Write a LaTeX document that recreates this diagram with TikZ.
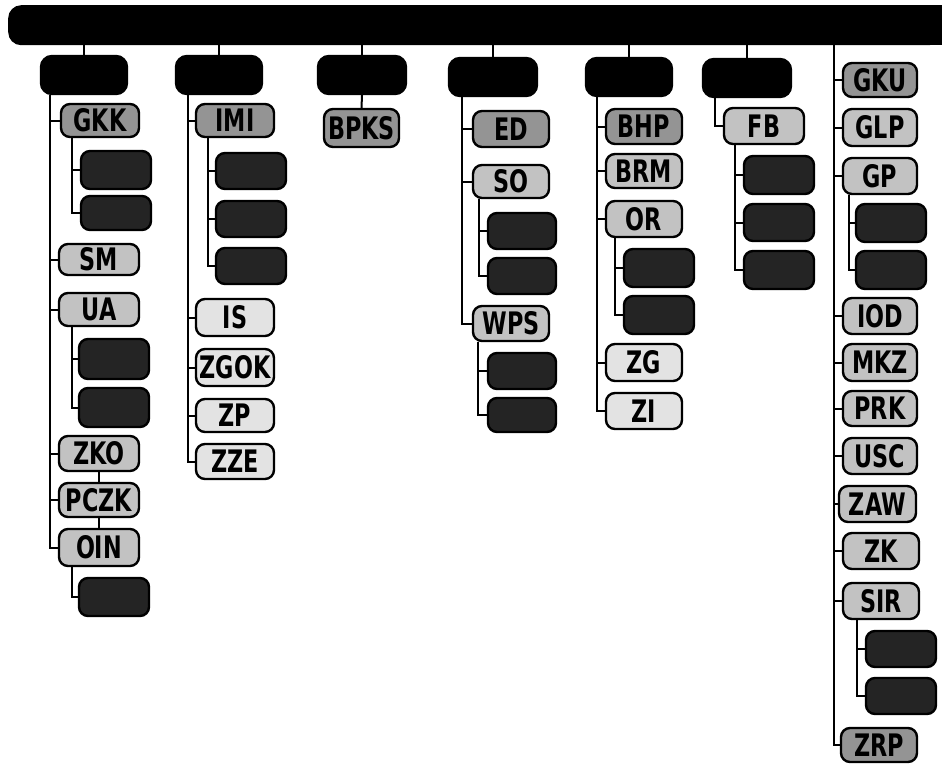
\documentclass[tikz,border=0pt]{standalone}
\usepackage{fontspec}
\usepackage{graphicx}
\setmainfont{DejaVu Sans}
\newcommand\lbl[1]{\scalebox{0.72}[1]{\fontsize{31}{31}\selectfont\bfseries #1}}
\tikzset{
  box/.style={draw=black, line width=2.4pt, rounded corners=9pt, inner sep=0pt, text=black},
  blk/.style={fill=black, rounded corners=11pt},
  lA/.style={fill=black!42},
  lB/.style={fill=black!24},
  lC/.style={fill=black!11},
  dk/.style={fill=black!86},
  ln/.style={draw=black, line width=2pt}
}
\newcommand\bx[7]{\node[box,#6,minimum width={(#4-#2-2)*1pt},minimum height={(#5-#3-2)*1pt}] (#1) at ({(#2+#4)/2},{(#3+#5)/2}) {\lbl{#7}};}
\begin{document}
\begin{tikzpicture}[x=1pt,y=-1pt]
\useasboundingbox[fill=white] (0,0) rectangle (942,764);
% top bar
\node[fill=black, rounded corners=13pt, inner sep=0pt, minimum width=934pt, minimum height=40pt, anchor=north west] (top) at (8,5) {};
\fill[black] (top.north) rectangle (top.south east);
% column 1
\bx{A1}{40}{55}{128}{95}{blk}{}
\bx{GKK}{60}{103}{140}{138}{lA}{GKK}
\bx{g1a}{80}{150}{152}{190}{dk}{}
\bx{g1b}{80}{195}{152}{231}{dk}{}
\bx{SM}{58}{243}{140}{276}{lB}{SM}
\bx{UA}{58}{292}{140}{327}{lB}{UA}
\bx{u1}{78}{338}{150}{380}{dk}{}
\bx{u2}{78}{387}{150}{428}{dk}{}
\bx{ZKO}{58}{435}{140}{472}{lB}{ZKO}
\bx{PCZK}{58}{482}{140}{518}{lB}{PCZK}
\bx{OIN}{58}{528}{140}{567}{lB}{OIN}
\bx{o1}{78}{577}{150}{617}{dk}{}
% column 2
\bx{A2}{175}{55}{263}{95}{blk}{}
\bx{IMI}{195}{103}{275}{138}{lA}{IMI}
\bx{i1}{215}{152}{287}{190}{dk}{}
\bx{i2}{215}{200}{287}{238}{dk}{}
\bx{i3}{215}{247}{287}{285}{dk}{}
\bx{IS}{195}{298}{275}{337}{lC}{IS}
\bx{ZGOK}{195}{348}{275}{387}{lC}{ZGOK}
\bx{ZP}{195}{398}{275}{433}{lC}{ZP}
\bx{ZZE}{195}{443}{275}{480}{lC}{ZZE}
% column 3
\bx{A3}{317}{55}{407}{95}{blk}{}
\bx{BPKS}{323}{108}{400}{148}{lA}{BPKS}
% column 4
\bx{A4}{448}{57}{538}{97}{blk}{}
\bx{ED}{472}{110}{550}{148}{lA}{ED}
\bx{SO}{472}{164}{550}{199}{lB}{SO}
\bx{s1}{487}{212}{557}{250}{dk}{}
\bx{s2}{487}{257}{557}{295}{dk}{}
\bx{WPS}{472}{305}{550}{342}{lB}{WPS}
\bx{w1}{487}{352}{557}{390}{dk}{}
\bx{w2}{487}{397}{557}{433}{dk}{}
% column 5
\bx{A5}{585}{57}{673}{97}{blk}{}
\bx{BHP}{605}{108}{683}{145}{lA}{BHP}
\bx{BRM}{605}{153}{683}{189}{lB}{BRM}
\bx{OR}{605}{200}{683}{238}{lB}{OR}
\bx{r1}{623}{248}{695}{288}{dk}{}
\bx{r2}{623}{295}{695}{335}{dk}{}
\bx{ZG}{605}{343}{683}{382}{lC}{ZG}
\bx{ZI}{605}{392}{683}{430}{lC}{ZI}
% column 6
\bx{A6}{702}{58}{792}{98}{blk}{}
\bx{FB}{723}{107}{805}{145}{lB}{FB}
\bx{f1}{743}{155}{815}{195}{dk}{}
\bx{f2}{743}{203}{815}{242}{dk}{}
\bx{f3}{743}{250}{815}{290}{dk}{}
% column 7
\bx{GKU}{842}{62}{918}{98}{lA}{GKU}
\bx{GLP}{842}{108}{918}{147}{lB}{GLP}
\bx{GP}{842}{157}{918}{195}{lB}{GP}
\bx{p1}{855}{203}{927}{243}{dk}{}
\bx{p2}{855}{250}{927}{290}{dk}{}
\bx{IOD}{842}{297}{918}{335}{lB}{IOD}
\bx{MKZ}{842}{343}{918}{382}{lB}{MKZ}
\bx{PRK}{842}{390}{918}{427}{lB}{PRK}
\bx{USC}{842}{437}{918}{475}{lB}{USC}
\bx{ZAW}{838}{485}{917}{523}{lB}{ZAW}
\bx{ZK}{842}{532}{920}{570}{lB}{ZK}
\bx{SIR}{842}{582}{920}{620}{lB}{SIR}
\bx{q1}{865}{630}{937}{668}{dk}{}
\bx{q2}{865}{677}{937}{715}{dk}{}
\bx{ZRP}{840}{727}{918}{763}{lA}{ZRP}
% connectors from top bar
\foreach \a in {A1,A2,A3,A4,A5,A6} \draw[ln] (\a.north) -- (\a.north |- top.south);
\coordinate (c7) at (834,45);
% column 1
\foreach \c in {GKK,SM,UA,ZKO,PCZK,OIN} \draw[ln] ([xshift=10pt]A1.south west) |- (\c.west);
\foreach \c in {g1a,g1b} \draw[ln] ([xshift=12pt]GKK.south west) |- (\c.west);
\foreach \c in {u1,u2} \draw[ln] ([xshift=14pt]UA.south west) |- (\c.west);
\draw[ln] ([xshift=14pt]OIN.south west) |- (o1.west);
\draw[ln] (ZKO.south) -- (PCZK.north);
\draw[ln] (PCZK.south) -- (OIN.north);
% column 2
\foreach \c in {IMI,IS,ZGOK,ZP,ZZE} \draw[ln] ([xshift=13pt]A2.south west) |- (\c.west);
\foreach \c in {i1,i2,i3} \draw[ln] ([xshift=13pt]IMI.south west) |- (\c.west);
% column 3
\draw[ln] (A3.south) -- (BPKS.north);
% column 4
\foreach \c in {ED,SO,WPS} \draw[ln] ([xshift=14pt]A4.south west) |- (\c.west);
\foreach \c in {s1,s2} \draw[ln] ([xshift=7pt]SO.south west) |- (\c.west);
\foreach \c in {w1,w2} \draw[ln] ([xshift=6pt]WPS.south west) |- (\c.west);
% column 5
\foreach \c in {BHP,BRM,OR,ZG,ZI} \draw[ln] ([xshift=12pt]A5.south west) |- (\c.west);
\foreach \c in {r1,r2} \draw[ln] ([xshift=10pt]OR.south west) |- (\c.west);
% column 6
\draw[ln] ([xshift=13pt]A6.south west) |- (FB.west);
\foreach \c in {f1,f2,f3} \draw[ln] ([xshift=12pt]FB.south west) |- (\c.west);
% column 7
\foreach \c in {GKU,GLP,GP,IOD,MKZ,PRK,USC,ZAW,ZK,SIR,ZRP} \draw[ln] (c7) |- (\c.west);
\foreach \c in {p1,p2} \draw[ln] ([xshift=7pt]GP.south west) |- (\c.west);
\foreach \c in {q1,q2} \draw[ln] ([xshift=15pt]SIR.south west) |- (\c.west);
\end{tikzpicture}
\end{document}
